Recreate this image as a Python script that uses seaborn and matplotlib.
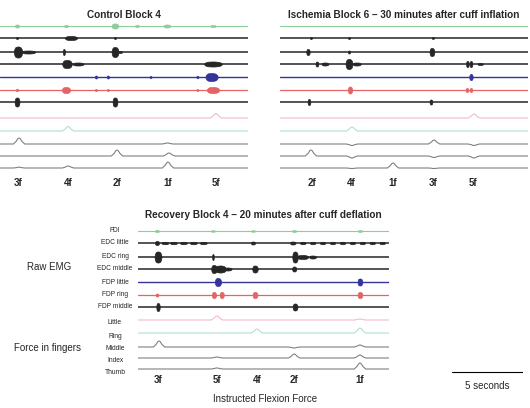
import matplotlib
matplotlib.use("Agg")
import matplotlib.pyplot as plt
import numpy as np
import pandas as pd
import seaborn as sns

sns.set_style("white")
plt.rcParams["font.family"] = ["Liberation Sans", "DejaVu Sans"]

emg_channels = ["FDI", "EDC little", "EDC ring", "EDC middle", "FDP little", "FDP ring", "FDP middle"]
force_channels = ["Little", "Ring", "Middle", "Index", "Thumb"]

# ---- Control block: cue labels, times (s), EMG bursts (t, dur, amp), force peaks (t, height)
control_title = "Control Block 4"
control_duration = 17.46
control_cues = ["3f", "4f", "2f", "1f", "5f"]
control_cue_times = [1.27, 4.79, 8.24, 11.83, 15.21]
control_bursts = {
    "FDI": [(1.2, 0.3, 1.5), (4.65, 0.3, 1), (8.1, 0.5, 2.5), (9.65, 0.3, 1), (11.76, 0.5, 1.5), (15.0, 0.4, 1)],
    "EDC little": [(1.2, 0.15, 1), (5.0, 0.9, 2), (8.1, 0.15, 1)],
    "EDC ring": [(1.27, 0.6, 5.5), (2.0, 1.0, 1.5), (4.5, 0.15, 3), (8.1, 0.5, 5), (8.45, 0.3, 1)],
    "EDC middle": [(4.72, 0.7, 4), (5.5, 0.8, 1.5), (15.0, 1.3, 2.5)],
    "FDP little": [(6.76, 0.15, 1.5), (7.6, 0.15, 1.5), (10.6, 0.15, 1), (13.9, 0.15, 1.2), (14.9, 0.9, 4)],
    "FDP ring": [(1.2, 0.15, 1.2), (4.65, 0.6, 3), (6.76, 0.15, 1), (7.6, 0.15, 1), (13.9, 0.15, 1), (15.0, 0.9, 3)],
    "FDP middle": [(1.2, 0.35, 4.5), (8.1, 0.35, 4.5)],
}
control_peaks = {
    "Little": [(15.2, 4.5)],
    "Ring": [(4.8, 4.5)],
    "Middle": [(1.34, 6), (11.8, 1)],
    "Index": [(8.24, 6), (11.9, 3)],
    "Thumb": [(1.34, 0.8), (4.8, 2), (11.83, 6)],
}

# ---- Ischemia block
ischemia_title = "Ischemia Block 6 \u2013 30 minutes after cuff inflation"
ischemia_duration = 17.46
ischemia_cues = ["2f", "4f", "1f", "3f", "5f"]
ischemia_cue_times = [2.25, 5.0, 7.96, 10.77, 13.59]
ischemia_bursts = {
    "FDI": [],
    "EDC little": [(2.18, 0.15, 1), (4.86, 0.15, 1), (10.77, 0.15, 1)],
    "EDC ring": [(1.97, 0.25, 3), (4.86, 0.15, 1.5), (10.7, 0.35, 4)],
    "EDC middle": [(2.6, 0.2, 2.5), (3.17, 0.5, 1.5), (4.86, 0.5, 5), (5.4, 0.6, 1.5), (13.2, 0.2, 3), (13.45, 0.2, 3), (14.1, 0.4, 1)],
    "FDP little": [(13.45, 0.25, 3)],
    "FDP ring": [(4.93, 0.3, 3.5), (13.17, 0.2, 2), (13.45, 0.2, 2)],
    "FDP middle": [(2.04, 0.2, 3), (10.63, 0.2, 2.5)],
}
ischemia_peaks = {
    "Little": [(13.66, 4)],
    "Ring": [(5.07, 4)],
    "Middle": [(5.07, -1.5), (10.85, 4), (13.66, -1.5)],
    "Index": [(2.18, 6), (5.07, -2), (10.85, -1.5), (13.66, -2)],
    "Thumb": [(5.07, -0.5), (7.96, 5), (10.85, -0.5)],
}

# ---- Recovery block
recovery_title = "Recovery Block 4 \u2013 20 minutes after cuff deflation"
recovery_duration = 17.68
recovery_cues = ["3f", "5f", "4f", "2f", "1f"]
recovery_cue_times = [1.41, 5.56, 8.38, 10.99, 15.63]
recovery_bursts = {
    "FDI": [(1.34, 0.3, 1), (5.28, 0.3, 0.8), (8.1, 0.3, 0.8), (11.0, 0.3, 1), (15.63, 0.3, 1)],
    "EDC little": [(1.34, 0.3, 2), (1.9, 0.5, 1.2), (2.5, 0.5, 1.2), (3.2, 0.5, 1.2), (3.9, 0.5, 1.2),
                   (4.6, 0.5, 1.2), (8.1, 0.3, 1.5), (10.9, 0.4, 1.5), (11.6, 0.4, 1.2), (12.3, 0.4, 1.2),
                   (13.0, 0.4, 1.2), (13.7, 0.4, 1.2), (14.4, 0.4, 1.2), (15.1, 0.4, 1.2), (15.8, 0.4, 1.2),
                   (16.5, 0.4, 1.2), (17.2, 0.4, 1.2)],
    "EDC ring": [(1.41, 0.5, 5.5), (5.28, 0.1, 3), (11.06, 0.4, 5.5), (11.6, 0.8, 2), (12.3, 0.5, 1.5)],
    "EDC middle": [(5.35, 0.4, 4), (5.8, 0.8, 3.5), (6.3, 0.6, 1.5), (8.24, 0.4, 3.5), (11.0, 0.3, 2.5)],
    "FDP little": [(5.63, 0.45, 4), (15.63, 0.35, 3.5)],
    "FDP ring": [(1.34, 0.2, 1.5), (5.35, 0.3, 3), (5.9, 0.3, 3), (8.24, 0.35, 3), (15.63, 0.35, 3)],
    "FDP middle": [(1.41, 0.25, 4), (11.06, 0.35, 3.5)],
}
recovery_peaks = {
    "Little": [(5.56, 4), (15.63, 1)],
    "Ring": [(8.38, 4), (15.63, 5)],
    "Middle": [(1.48, 6), (11.0, -1), (15.63, 2)],
    "Index": [(5.56, 1), (11.0, 4), (15.63, 3)],
    "Thumb": [(5.56, 1), (15.63, 6)],
}

scale_bar_seconds = 5

# ---- styles / layout (pixels)
W, H = 530, 408
PX_PER_S = 14.2
PANEL_H = 152
EMG_BASE = [6, 18, 32, 44, 57, 70, 82]
FORCE_BASE = [98, 111, 124, 136, 148]
colors = {
    "FDI": "#8fcc9b", "EDC little": "#262626", "EDC ring": "#262626", "EDC middle": "#262626",
    "FDP little": "#34349a", "FDP ring": "#e46363", "FDP middle": "#262626",
    "Little": "#f2bcc6", "Ring": "#b0e0d2", "Middle": "#808080", "Index": "#808080", "Thumb": "#808080",
}
emg_widths = {"FDI": 0.8, "EDC little": 1.1, "EDC ring": 1.1, "EDC middle": 1.1,
              "FDP little": 1.0, "FDP ring": 0.9, "FDP middle": 1.1}
BURST_DX = np.array([-0.5, -0.42, -0.3, -0.1, 0.1, 0.3, 0.42, 0.5])
BURST_ENV = np.array([0.0, 0.6, 0.9, 1.0, 1.0, 0.85, 0.55, 0.0])
PEAK_DX = [-0.4, -0.2, -0.08, 0, 0.08, 0.2, 0.4]
PEAK_F = [0, 0.45, 0.9, 1, 0.9, 0.45, 0]

fig = plt.figure(figsize=(W / 100, H / 100), dpi=100)


def panel(left_px, top_px, duration, title, title_y, cue_y, force_base,
          cues, cue_times, bursts, peaks):
    ax = fig.add_axes([left_px / W, 1 - (top_px + PANEL_H) / H, duration * PX_PER_S / W, PANEL_H / H])
    # EMG baselines
    rows = []
    for ch, b in zip(emg_channels, EMG_BASE):
        rows += [(ch, 0.0, b), (ch, duration, b)]
    df = pd.DataFrame(rows, columns=["channel", "t", "y"])
    sns.lineplot(data=df, x="t", y="y", hue="channel", size="channel", palette=colors,
                 sizes=emg_widths, estimator=None, legend=False, ax=ax)
    # EMG bursts
    for ch, b in zip(emg_channels, EMG_BASE):
        for t, d, a in bursts[ch]:
            d = max(d, 0.12)
            x = t + d * BURST_DX
            env = a * BURST_ENV
            ax.fill_between(x, b - env, b + env, color=colors[ch], lw=0.5)
    # force traces
    rows = []
    for ch, b in zip(force_channels, force_base):
        pts = [(0.0, 0.0), (duration, 0.0)]
        for t, h in peaks[ch]:
            for dx, f in zip(PEAK_DX, PEAK_F):
                pts.append((t + dx, f * h))
        for t, v in sorted(pts):
            rows.append((ch, t, b - v))
    df = pd.DataFrame(rows, columns=["channel", "t", "y"])
    sns.lineplot(data=df, x="t", y="y", hue="channel", palette=colors, estimator=None,
                 legend=False, linewidth=0.8, ax=ax)
    for lab, t in zip(cues, cue_times):
        ax.text(t, cue_y, lab, ha="center", va="center", fontsize=7, fontweight="bold")
    ax.text(duration / 2, title_y, title, ha="center", va="center", fontsize=7.2, fontweight="bold")
    ax.set_xlim(0, duration)
    ax.set_ylim(PANEL_H, 0)
    ax.axis("off")
    return ax


panel(0, 20, control_duration, control_title, -5, 163, FORCE_BASE,
      control_cues, control_cue_times, control_bursts, control_peaks)
panel(280, 20, ischemia_duration, ischemia_title, -5, 163, FORCE_BASE,
      ischemia_cues, ischemia_cue_times, ischemia_bursts, ischemia_peaks)
rec_top = 225
rec_force_base = [95, 108, 122, 133, 144]
rec_force_label_y = [98, 111, 123, 136, 148]
panel(138, rec_top, recovery_duration, recovery_title, -10, 155, rec_force_base,
      recovery_cues, recovery_cue_times, recovery_bursts, recovery_peaks)

# channel labels for the recovery panel
for ch, b in zip(emg_channels + force_channels, EMG_BASE + rec_force_label_y):
    fig.text(115 / W, 1 - (rec_top + b) / H, ch, ha="center", va="center", fontsize=4.8)
fig.text(49 / W, 1 - 267 / H, "Raw EMG", ha="center", va="center", fontsize=7)
fig.text(48 / W, 1 - 348 / H, "Force in fingers", ha="center", va="center", fontsize=7)
fig.text(265 / W, 1 - 399 / H, "Instructed Flexion Force", ha="center", va="center", fontsize=7)

# scale bar
sax = fig.add_axes([452 / W, 1 - 380 / H, scale_bar_seconds * PX_PER_S / W, 16 / H])
sns.lineplot(x=[0, scale_bar_seconds], y=[0, 0], color="black", linewidth=0.8, ax=sax)
sax.set_xlim(0, scale_bar_seconds)
sax.set_ylim(-1, 1)
sax.axis("off")
fig.text(487 / W, 1 - 386 / H, "5 seconds", ha="center", va="center", fontsize=7)

fig.savefig("out.png", dpi=100)
